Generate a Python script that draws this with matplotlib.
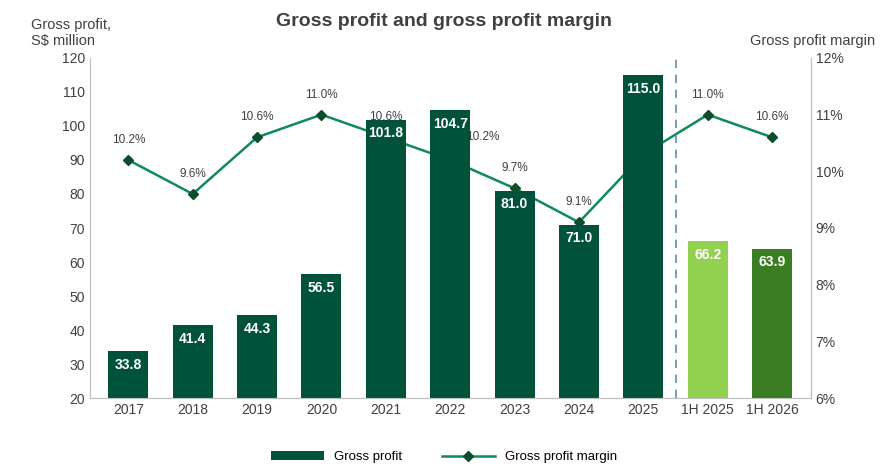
import matplotlib
matplotlib.use("Agg")
import matplotlib.pyplot as plt

categories = ["2017","2018","2019","2020","2021","2022","2023","2024","2025","1H 2025","1H 2026"]
gross_profit = [33.8,41.4,44.3,56.5,101.8,104.7,81.0,71.0,115.0,66.2,63.9]
margin = [10.2,9.6,10.6,11.0,10.6,10.2,9.7,9.1,10.3,11.0,10.6]
bar_colors = ["#00523a"]*9 + ["#92d050", "#3a7d22"]

plt.rcParams['font.family'] = ['Liberation Sans', 'DejaVu Sans']
fig = plt.figure(figsize=(8.88, 4.75), dpi=100)
ax = fig.add_axes([0.101, 0.162, 0.812, 0.716])
x = list(range(len(categories)))
ax.bar(x, [g - 20 for g in gross_profit], bottom=20, width=0.62, color=bar_colors, label="Gross profit", zorder=2)
ax.set_ylim(20, 120)
ax.set_xlim(-0.6, 10.6)
ax.set_yticks(range(20, 121, 10))
ax.set_xticks(x)
ax.set_xticklabels(categories)
ax.tick_params(labelsize=10, colors="#404040", length=0)
for s in ["top"]:
    ax.spines[s].set_visible(False)
for s in ["left", "right", "bottom"]:
    ax.spines[s].set_color("#bfbfbf")
for i, g in enumerate(gross_profit):
    ax.text(i, g - 4, f"{g:.1f}", ha="center", va="center", color="white", fontsize=10, fontweight="bold", zorder=5)
ax.axvline(8.5, color="#5b8db0", ls=(0, (5, 4)), lw=1.2)

ax2 = ax.twinx()
ax2.plot(x, margin, color="#0e8a5f", lw=1.8, marker="D", markersize=5, markerfacecolor="#0b4d2c", markeredgecolor="#0b4d2c", label="Gross profit margin", zorder=3)
ax2.set_ylim(6, 12)
ax2.set_yticks(range(6, 13))
ax2.set_yticklabels([f"{v}%" for v in range(6, 13)])
ax2.tick_params(labelsize=10, colors="#404040", length=0)
ax2.spines["top"].set_visible(False)
for s in ["left", "right", "bottom"]:
    ax2.spines[s].set_color("#bfbfbf")
for i, m in enumerate(margin):
    if i == 5:
        ax2.annotate(f"{m:.1f}%", (i, m), xytext=(i + 0.25, m + 0.35), fontsize=8.5, color="#404040",
                     arrowprops=dict(arrowstyle="-", color="#404040", lw=0.8))
    elif i == 8:
        ax2.text(i, m + 0.5, f"{m:.1f}%", ha="center", fontsize=8.5, color="#5a6e62", zorder=1)
    else:
        ax2.text(i, m + 0.3, f"{m:.1f}%", ha="center", fontsize=8.5, color="#404040")
ax.set_zorder(2); ax2.set_zorder(1)
ax.patch.set_visible(False)

fig.text(0.5, 0.945, "Gross profit and gross profit margin", ha="center", fontsize=14, fontweight="bold", color="#404040")
fig.text(0.035, 0.905, "Gross profit,\nS$ million", ha="left", fontsize=10.5, color="#404040", linespacing=1.2)
fig.text(0.985, 0.905, "Gross profit margin", ha="right", fontsize=10.5, color="#404040")

h1, l1 = ax.get_legend_handles_labels()
h2, l2 = ax2.get_legend_handles_labels()
fig.legend(h1 + h2, l1 + l2, loc="lower center", bbox_to_anchor=(0.5, 0.0), ncol=2, frameon=False, fontsize=9.5, handlelength=4, columnspacing=3)
fig.savefig("out.png", dpi=100)
